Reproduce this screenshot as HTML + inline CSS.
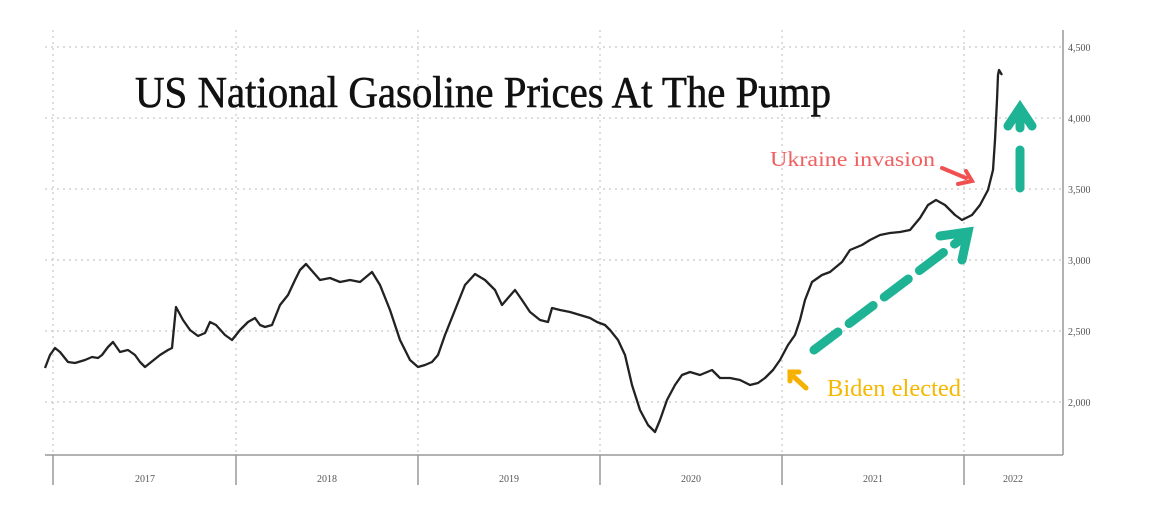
<!DOCTYPE html>
<html><head><style>body{margin:0;background:#fff}svg{display:block}</style></head><body>
<svg width="1169" height="514" viewBox="0 0 1169 514" xmlns="http://www.w3.org/2000/svg">
<g stroke="#bbb" stroke-width="1" stroke-dasharray="2,4">
<line x1="45" y1="47" x2="1062" y2="47"/><line x1="45" y1="118" x2="1062" y2="118"/><line x1="45" y1="189" x2="1062" y2="189"/><line x1="45" y1="260" x2="1062" y2="260"/><line x1="45" y1="331" x2="1062" y2="331"/><line x1="45" y1="402" x2="1062" y2="402"/>
<line x1="53" y1="30" x2="53" y2="455"/><line x1="236" y1="30" x2="236" y2="455"/><line x1="418" y1="30" x2="418" y2="455"/><line x1="600" y1="30" x2="600" y2="455"/><line x1="782" y1="30" x2="782" y2="455"/><line x1="964" y1="30" x2="964" y2="455"/>
</g>
<g stroke="#999" stroke-width="1.5" fill="none">
<line x1="45" y1="455" x2="1063" y2="455"/><line x1="1063" y1="30" x2="1063" y2="455"/>
<line x1="53" y1="455" x2="53" y2="485"/><line x1="236" y1="455" x2="236" y2="485"/><line x1="418" y1="455" x2="418" y2="485"/><line x1="600" y1="455" x2="600" y2="485"/><line x1="782" y1="455" x2="782" y2="485"/><line x1="964" y1="455" x2="964" y2="485"/>
</g>
<g font-family="Liberation Serif,serif" font-size="10" fill="#555">
<text x="1068" y="51">4,500</text><text x="1068" y="122">4,000</text><text x="1068" y="193">3,500</text><text x="1068" y="264">3,000</text><text x="1068" y="335">2,500</text><text x="1068" y="406">2,000</text>
<text x="145" y="482" text-anchor="middle">2017</text><text x="327" y="482" text-anchor="middle">2018</text><text x="509" y="482" text-anchor="middle">2019</text><text x="691" y="482" text-anchor="middle">2020</text><text x="873" y="482" text-anchor="middle">2021</text><text x="1013" y="482" text-anchor="middle">2022</text>
</g>
<text x="135" y="107" font-family="Liberation Serif,serif" font-size="44" fill="#111" stroke="#111" stroke-width="0.6" textLength="696" lengthAdjust="spacingAndGlyphs">US National Gasoline Prices At The Pump</text>
<polyline fill="none" stroke="#222" stroke-width="2.3" stroke-linejoin="round" points="45,368 50,355 55,348 60,352 68,362 75,363 85,360 92,357 98,358 102,355 108,347 113,342 120,352 128,350 135,355 140,362 145,367 150,363 160,355 168,350 172,348 176,307 183,320 190,330 198,336 205,333 210,322 216,325 225,335 232,340 240,330 248,322 255,318 260,325 265,327 272,325 280,305 288,295 295,280 300,270 306,264 313,272 320,280 330,278 340,282 350,280 360,282 372,272 380,285 390,310 400,340 410,360 418,367 425,365 432,362 438,355 445,335 455,310 465,285 475,274 485,280 495,290 502,305 508,298 515,290 522,300 530,312 540,320 548,322 552,308 560,310 570,312 580,315 590,318 597,322 605,325 610,330 618,340 625,355 632,385 640,410 648,425 655,432 660,420 667,400 675,385 682,375 690,372 700,375 712,370 720,378 730,378 740,380 750,385 758,383 765,378 773,370 780,360 788,345 795,335 800,320 805,300 812,282 822,275 830,272 842,262 850,250 862,245 870,240 880,235 890,233 900,232 910,230 920,218 928,205 936,200 945,205 955,215 962,220 972,215 980,205 988,190 993,170 995,140 997,100 998,75 999,70 1002,75"/>
<g stroke="#1db394" stroke-width="9" stroke-linecap="round" fill="none">
<line x1="814" y1="350" x2="960" y2="240" stroke-dasharray="30,14"/>
<polyline points="940,236 968,232 962,260"/>
<line x1="1020" y1="188" x2="1020" y2="150"/>
<line x1="1020" y1="128" x2="1020" y2="114"/>
<polyline points="1008,126 1020,108 1032,126"/>
</g>
<g stroke="#f5b000" stroke-width="5" fill="none" stroke-linecap="round">
<line x1="806" y1="388" x2="794" y2="377"/><polyline points="790,381 790,372 799,372"/>
</g>
<g stroke="#f05050" stroke-width="4" fill="none" stroke-linecap="round">
<line x1="942" y1="168" x2="966" y2="178"/><polyline points="958,184 972,181 966,171"/>
</g>
<text x="827" y="396" font-family="Liberation Serif,serif" font-size="24" fill="#f5b800" textLength="134" lengthAdjust="spacingAndGlyphs">Biden elected</text>
<text x="770" y="166" font-family="Liberation Serif,serif" font-size="21" fill="#f06060" textLength="165" lengthAdjust="spacingAndGlyphs">Ukraine invasion</text>
</svg>
</body></html>
